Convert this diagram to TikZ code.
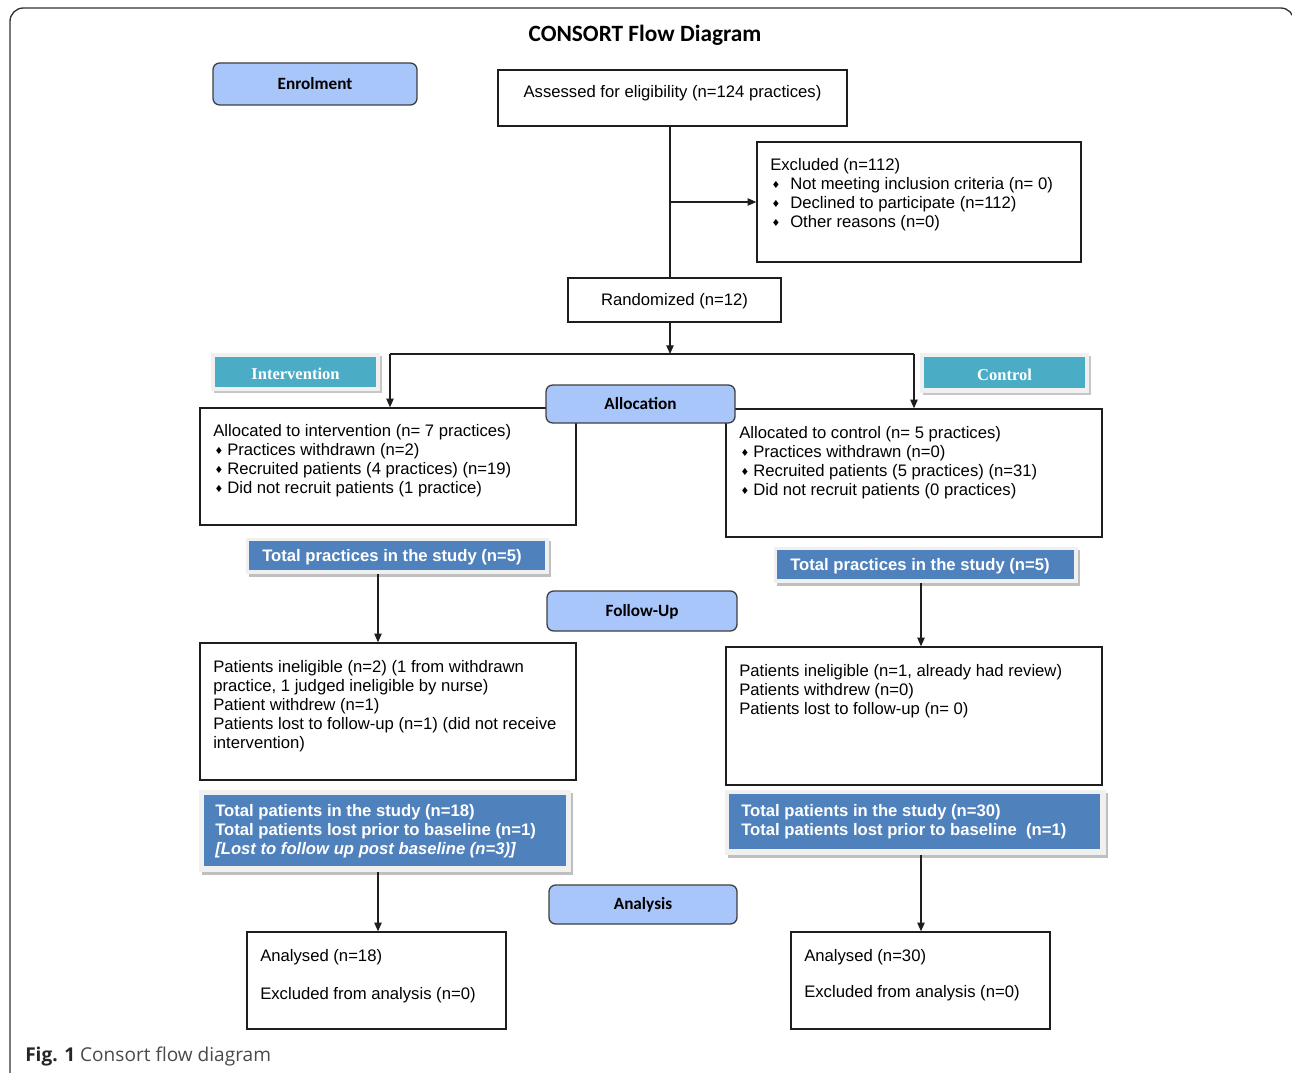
\documentclass[tikz,border=0pt]{standalone}
\usepackage{fontspec}
\setmainfont{Liberation Sans}
\newfontfamily\carl{Carlito}
\newfontfamily\tms{Liberation Serif}
\newfontfamily\dvs{DejaVu Sans}
\newfontfamily\osans{Open Sans}
\usetikzlibrary{arrows.meta,fit}
\definecolor{phaseblue}{HTML}{A9C6FA}
\definecolor{tealc}{HTML}{4BACC6}
\definecolor{totblue}{HTML}{4F81BD}
\definecolor{linec}{HTML}{1E1E1E}
\definecolor{capgray}{HTML}{4A4A4A}
\newcommand\bul{{\dvs\fontsize{7.3}{7}\selectfont\raisebox{0.4pt}{♦}}}
\newcommand\bi[1]{\hspace*{1pt}\makebox[#1][l]{\bul}}
\begin{document}
\begin{tikzpicture}[x=0.75pt,y=-0.75pt,
  box/.style={draw=linec, line width=1pt, inner sep=0pt, fill=white},
  phase/.style={draw=black!75, line width=1pt, rounded corners=5pt, fill=phaseblue, inner sep=0pt},
  phasetxt/.style={font=\carl\bfseries\fontsize{12.9}{14}\selectfont, inner sep=0pt},
  ctxt/.style={font=\fontsize{12.5}{14.25}\selectfont, inner sep=0pt},
  txt/.style={anchor=north west, align=left, inner sep=0pt, font=\fontsize{12.5}{14.25}\selectfont},
  wtxt/.style={anchor=north west, align=left, inner sep=0pt, text=white, font=\bfseries\fontsize{12.5}{14.25}\selectfont},
  armtxt/.style={text=white, inner sep=0pt, font=\tms\bfseries\fontsize{12.4}{14}\selectfont},
  lblout/.style={fill=gray!12, inner sep=0pt},
  arr/.style={-{Triangle[length=6.5pt,width=5.5pt]}, line width=0.9pt, draw=linec},
  ln/.style={line width=0.9pt, draw=linec}]
\clip (0,0) rectangle (1292,1073);
\fill[white] (0,0) rectangle (1292,1073);
% outer frame
\draw[line width=1pt, draw=black!80, rounded corners=10pt] (10,1120) -- (10,8) -- (1294,8) -- (1294,1120);
% title
\node[font=\carl\bfseries\fontsize{17.5}{20}\selectfont, inner sep=0pt] (title) at (645,35.5) {CONSORT Flow Diagram};

% phase boxes
\node[phase, fit={(213,63)(417,105)}] (enrol) {};
\node[phasetxt] (enrolT) at (enrol.center) {Enrolment};

% assessed
\node[box, fit={(498,70)(847,126)}] (assess) {};
\node[ctxt] (assessT) at (672.5,93.5) {Assessed for eligibility (n=124 practices)};

% excluded
\node[box, fit={(757,142)(1081,262)}] (excl) {};
\node[txt] (exclT) at (770,158) {Excluded (n=112)\\
\bi{14pt}Not meeting inclusion criteria (n= 0)\\
\bi{14pt}Declined to participate (n=112)\\
\bi{14pt}Other reasons (n=0)};

% randomized
\node[box, fit={(568,278)(781,322)}] (rand) {};
\node[ctxt] (randT) at (674.5,301) {Randomized (n=12)};

% arm labels
\fill[gray!45] (214,356) rectangle (382,393);
\node[lblout, fit={(211,353)(380,391)}] (intO) {};
\node[fill=tealc, inner sep=0pt, fit={(215,357)(376,387)}] (intI) {};
\node[armtxt] (intT) at ([yshift=-1.5pt]intI.center) {Intervention};
\fill[gray!45] (923,356) rectangle (1091,395);
\node[lblout, fit={(920,353)(1089,393)}] (conO) {};
\node[fill=tealc, inner sep=0pt, fit={(924,357)(1085,388)}] (conI) {};
\node[armtxt] (conT) at ([yshift=-1.5pt]conI.center) {Control};

% allocation boxes
\node[box, fit={(200,408)(576,525)}] (allocI) {};
\node[txt] (allocIT) at (213,424) {Allocated to intervention (n= 7 practices)\\
\bi{9.5pt}Practices withdrawn (n=2)\\
\bi{9.5pt}Recruited patients (4 practices) (n=19)\\
\bi{9.5pt}Did not recruit patients (1 practice)};
\node[box, fit={(726,409)(1102,537)}] (allocC) {};
\node[txt] (allocCT) at (739,426) {Allocated to control (n= 5 practices)\\
\bi{9.5pt}Practices withdrawn (n=0)\\
\bi{9.5pt}Recruited patients (5 practices) (n=31)\\
\bi{9.5pt}Did not recruit patients (0 practices)};

\node[phase, fit={(546,385)(735,423)}] (alloc) {};
\node[phasetxt] (allocT) at (alloc.center) {Allocation};

% total practices
\fill[gray!50] (249,541) rectangle (551,577);
\node[lblout, fit={(246,538)(549,574)}] (tpIO) {};
\node[fill=totblue, inner sep=0pt, fit={(249,541)(545,570)}] (tpI) {};
\node[wtxt, anchor=west] (tpIT) at (262,557.5) {Total practices in the study (n=5)};
\fill[gray!50] (777,550) rectangle (1080,586);
\node[lblout, fit={(774,547)(1078,583)}] (tpCO) {};
\node[fill=totblue, inner sep=0pt, fit={(777,550)(1074,579)}] (tpC) {};
\node[wtxt, anchor=west] (tpCT) at (790,566.5) {Total practices in the study (n=5)};

% follow-up
\node[phase, fit={(547,591)(737,631)}] (follow) {};
\node[phasetxt] (followT) at ([yshift=-0.5pt]follow.center) {Follow-Up};

\node[box, fit={(200,643)(576,780)}] (fuI) {};
\node[txt] (fuIT) at (213,660) {Patients ineligible (n=2) (1 from withdrawn\\
practice, 1 judged ineligible by nurse)\\
Patient withdrew (n=1)\\
Patients lost to follow-up (n=1) (did not receive\\
intervention)};
\node[box, fit={(726,647)(1102,785)}] (fuC) {};
\node[txt] (fuCT) at (739,664) {Patients ineligible (n=1, already had review)\\
Patients withdrew (n=0)\\
Patients lost to follow-up (n= 0)};

% total patients
\fill[gray!50] (202,793) rectangle (573,875);
\node[lblout, fit={(199,790)(571,872)}] (tIO) {};
\node[fill=totblue, inner sep=0pt, fit={(204,795)(566,866)}] (tI) {};
\node[wtxt] (tIT) at (215,804) {Total patients in the study (n=18)\\
Total patients lost prior to baseline (n=1)\\
\textit{[Lost to follow up post baseline (n=3)]}};
\fill[gray!50] (728,793) rectangle (1108,858);
\node[lblout, fit={(725,790)(1106,855)}] (tCO) {};
\node[fill=totblue, inner sep=0pt, fit={(729,794)(1100,849)}] (tC) {};
\node[wtxt] (tCT) at (741,804) {Total patients in the study (n=30)\\
Total patients lost prior to baseline\ \ (n=1)};

% analysis
\node[phase, fit={(549,885)(737,924)}] (analysis) {};
\node[phasetxt] (analysisT) at ([yshift=-0.5pt]analysis.center) {Analysis};

\node[box, fit={(247,932)(506,1029)}] (anI) {};
\node[txt] (anIT) at (260,949) {Analysed (n=18)\\[14.25pt]
Excluded from analysis (n=0)};
\node[box, fit={(791,932)(1050,1029)}] (anC) {};
\node[txt] (anCT) at (804,949) {Analysed (n=30)\\[12.75pt]
Excluded from analysis (n=0)};

% connectors
\coordinate (tr) at (670,202);
\draw[ln] (assess.south -| tr) -- (rand.north -| tr);
\draw[arr] (tr) -- (excl.west |- tr);
\coordinate (sp) at (670,354);
\draw[arr] (rand.south -| sp) -- (sp);
\coordinate (spL) at (390,354);
\coordinate (spR) at (914,354);
\draw[ln] (spL) -- (spR);
\draw[arr] (spL) -- (spL |- allocI.north);
\draw[arr] (spR) -- (spR |- allocC.north);
\coordinate (cL) at (378,0);
\coordinate (cR) at (921,0);
\draw[arr] (tpIO.south -| cL) -- (fuI.north -| cL);
\draw[arr] (tpCO.south -| cR) -- (fuC.north -| cR);
\draw[arr] (tIO.south -| cL) -- (anI.north -| cL);
\draw[arr] (tCO.south -| cR) -- (anC.north -| cR);

% caption
\node[anchor=west, inner sep=0pt, font=\osans\fontsize{14.3}{17}\selectfont, text=capgray] (cap) at (25,1056) {\textbf{\color{black!85}Fig. 1} Consort flow diagram};
\end{tikzpicture}
\end{document}
